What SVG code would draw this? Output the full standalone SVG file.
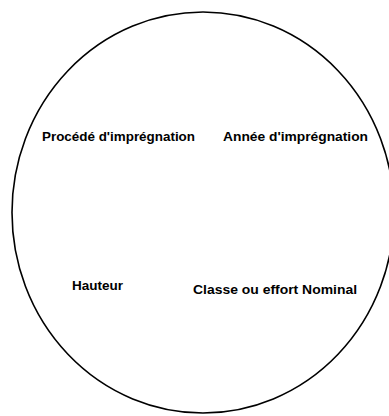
<svg xmlns="http://www.w3.org/2000/svg" width="389" height="416" viewBox="0 0 389 416">
<style>
.lbl{font-family:"Liberation Sans",Arial,sans-serif;font-weight:bold;font-size:12.5px;fill:#000}
.shape{fill:none;stroke:#000;stroke-width:1.6}
</style>
<rect width="389" height="416" fill="#fff"/>
<g id="circle">
<ellipse class="shape" cx="203" cy="212.5" rx="191" ry="200.5"/>
</g>
<g id="connectors"></g>
<g id="node-procede">
<text class="lbl" x="42" y="141" textLength="153" lengthAdjust="spacingAndGlyphs">Procédé d'imprégnation</text>
</g>
<g id="node-annee">
<text class="lbl" x="223" y="141" textLength="145" lengthAdjust="spacingAndGlyphs">Année d'imprégnation</text>
</g>
<g id="node-hauteur">
<text class="lbl" x="72" y="290" textLength="51" lengthAdjust="spacingAndGlyphs">Hauteur</text>
</g>
<g id="node-classe">
<text class="lbl" x="193" y="294" textLength="164" lengthAdjust="spacingAndGlyphs">Classe ou effort Nominal</text>
</g>
</svg>
